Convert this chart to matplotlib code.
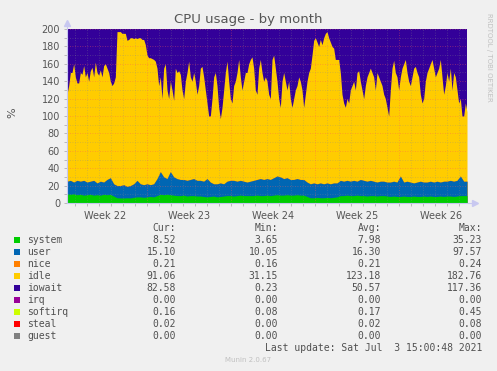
import numpy as np
import matplotlib.pyplot as plt

# munin "cpu" graph, month view (400 px wide, 12 px per day)
DAYS = 400 / 12.0

# top edge of the idle area (system+user+nice+idle), read every ~1.7 px
idle_top = [
    125, 135, 150, 150, 160, 145, 138, 138, 150, 148,
    158, 145, 150, 140, 152, 156, 145, 162, 150, 147,
    153, 145, 158, 160, 155, 150, 140, 135, 138, 145,
    197, 197, 197, 195, 195, 195, 187, 188, 190, 190,
    189, 190, 189, 190, 190, 188, 188, 182, 170, 167,
    167, 166, 165, 163, 155, 135, 145, 120, 155, 160,
    130, 120, 140, 130, 118, 155, 150, 152, 148, 130,
    120, 140, 150, 163, 145, 140, 150, 140, 125, 135,
    155, 157, 145, 130, 115, 100, 100, 120, 145, 150,
    135, 110, 97, 110, 130, 150, 163, 140, 120, 115,
    135, 140, 150, 165, 145, 130, 140, 150, 150, 160,
    165, 168, 155, 130, 125, 155, 165, 150, 140, 145,
    140, 125, 120, 165, 170, 155, 140, 120, 110, 140,
    150, 140, 130, 140, 120, 110, 120, 130, 135, 145,
    140, 130, 110, 125, 140, 150, 155, 170, 187, 190,
    185, 180, 188, 182, 190, 195, 197, 190, 185, 180,
    178, 165, 165, 165, 150, 125, 115, 110, 120, 115,
    130, 135, 140, 130, 150, 152, 140, 130, 120, 135,
    145, 150, 155, 150, 145, 130, 150, 145, 140, 135,
    125, 120, 110, 100, 130, 155, 164, 150, 145, 130,
    145, 155, 160, 165, 150, 140, 135, 145, 155, 157,
    150, 145, 125, 115, 120, 140, 150, 155, 160, 165,
    155, 145, 150, 155, 165, 145, 125, 135, 150, 140,
    155, 130, 150, 145, 130, 115, 120, 100, 100, 115,
    105,
]

# top of the system area and of the user area, read every ~3.3 px
system_top = [
    10.5, 10, 10.5, 9.5, 10, 9, 9.5, 10, 9, 9.5, 9, 10, 9.5, 10,
    8, 6, 5.8, 5.8, 6, 5.8,
    6.5, 7, 7, 6.5, 7, 7.5, 7,
    8.5, 10, 9.5, 10, 9.5,
    9, 8.5, 8.5, 9, 8, 8.5, 8.5, 8,
    8, 7.5, 7, 7.5, 8, 7, 7.5, 8,
    8.5, 8.5, 8, 8.5, 9, 8.5, 8.5,
    8.5, 8.5, 9, 8.5, 8.5, 9, 8.5,
    9, 9.5, 9, 9, 9.5, 9, 9, 9.5, 9, 9,
    7.5, 6, 6, 6.5, 6, 6, 6.5, 6, 6.5,
    7, 8.5, 8.5, 9, 8.5, 8.5, 9, 8.5, 8.5, 8, 8.5, 8.5, 8, 8.5, 8.5,
    8, 7.5, 8, 7.5, 7.5, 8, 7.5, 7.5, 8, 7.5, 7.5, 8, 7.5, 8, 7.5,
    7.5, 8, 7.5, 8, 8, 7.5, 8, 8.5, 8.5, 8.5,
]
user_top = [
    25, 26, 24, 26, 25, 26, 24, 25, 26, 23, 25, 24, 27, 29,
    22, 20, 20, 21, 19, 20,
    22, 26, 22, 21, 22, 21, 22,
    28, 36, 30, 28, 36,
    30, 28, 27, 27, 26, 27, 28, 26,
    26, 25, 28, 24, 22, 22, 23, 22,
    25, 26, 26, 25, 26, 25, 24,
    25, 26, 27, 28, 27, 28, 27,
    29, 31, 30, 28, 29, 27, 27, 28, 27, 27,
    24, 22, 23, 22, 23, 22, 23, 22, 23,
    23, 26, 25, 26, 25, 26, 25, 27, 26, 25, 26, 25, 24, 25, 25,
    24, 24, 25, 24, 31, 24, 25, 24, 23, 24, 25, 24, 24, 25, 24,
    25, 24, 25, 25, 26, 25, 26, 31, 25, 25,
]

names = ['system', 'user', 'nice', 'idle', 'iowait', 'irq', 'softirq', 'steal', 'guest']
colors = ['#00cc00', '#0066b3', '#ff8000', '#ffcc00', '#330099', '#990099', '#ccff00', '#ff0000', '#808080']
cur = ['8.52', '15.10', '0.21', '91.06', '82.58', '0.00', '0.16', '0.02', '0.00']
mins = ['3.65', '10.05', '0.16', '31.15', '0.23', '0.00', '0.08', '0.00', '0.00']
avgs = ['7.98', '16.30', '0.21', '123.18', '50.57', '0.00', '0.17', '0.02', '0.00']
maxs = ['35.23', '97.57', '0.24', '182.76', '117.36', '0.00', '0.45', '0.08', '0.00']

week_labels = ['Week 22', 'Week 23', 'Week 24', 'Week 25', 'Week 26']
first_week = 6.64   # first week boundary, in days from the left edge

W, H = 497.0, 371.0
fig = plt.figure(figsize=(W / 100, H / 100), dpi=100, facecolor='#f0f0f0')
ax = fig.add_axes([67 / W, 1 - 203 / H, 400 / W, 174 / H])
ax.set_facecolor('white')

x_hi = np.linspace(0, DAYS, len(idle_top))
x_lo = np.linspace(0, DAYS, len(system_top))
nice_h = 0.21

# paint from the top layer downwards
ax.fill_between(x_hi, 0, 199.8, color=colors[4], lw=0)
ax.fill_between(x_hi, 199.8, 199.97, color=colors[6], lw=0)
ax.fill_between(x_hi, 199.97, 200, color=colors[7], lw=0)
ax.fill_between(x_hi, 0, idle_top, color=colors[3], lw=0)
ax.fill_between(x_lo, 0, np.array(user_top) + nice_h, color=colors[2], lw=0)
ax.fill_between(x_lo, 0, user_top, color=colors[1], lw=0)
ax.fill_between(x_lo, 0, system_top, color=colors[0], lw=0)

ax.set_xlim(0, DAYS)
ax.set_ylim(0, 200)

# grid on top of the data, like rrdtool
dot = (0, (1, 2))
minor_c = (0.55, 0.55, 0.55, 0.4)
major_c = (1.0, 0.35, 0.35, 0.5)
for v in range(10, 201, 10):
    ax.axhline(v, color=major_c if v % 20 == 0 else minor_c, lw=0.6, ls=dot, zorder=5)
days = np.arange(first_week - 6, DAYS, 1.0)
for i, d in enumerate(days):
    ax.axvline(d, color=major_c if i % 7 == 6 else minor_c, lw=0.6, ls=dot, zorder=5)

ax.set_yticks(range(0, 201, 20))
ax.set_yticks(range(0, 201, 10), minor=True)
ax.set_xticks([first_week - 3.5 + 7 * k for k in range(len(week_labels))])
ax.set_xticklabels(week_labels)
ax.set_xticks(days, minor=True)
ax.tick_params(axis='both', which='both', labelsize=7, labelcolor='#555555',
               color='#b0b0b0', length=2, width=0.6)
ax.tick_params(axis='x', which='major', length=0, pad=6)
ax.tick_params(axis='y', which='major', pad=3)
for s in ax.spines.values():
    s.set_visible(False)

# axis lines with arrow heads
axc = '#c8c8f0'
ax.plot([0, 1.015], [0, 0], transform=ax.transAxes, color=axc, lw=0.8, clip_on=False, zorder=6)
ax.plot([0, 0], [0, 1.03], transform=ax.transAxes, color=axc, lw=0.8, clip_on=False, zorder=6)
ax.plot([1.02], [0], marker='>', ms=4, color=axc, transform=ax.transAxes, clip_on=False)
ax.plot([0], [1.035], marker='^', ms=4, color=axc, transform=ax.transAxes, clip_on=False)

fig.text(248 / W, 1 - 19 / H, 'CPU usage - by month', ha='center', va='center',
         fontsize=9.5, color='#555555')
fig.text(12 / W, 1 - 113 / H, '%', rotation=90, ha='center', va='center',
         fontsize=8, color='#555555')
fig.text(489 / W, 1 - 57 / H, 'RRDTOOL / TOBI OETIKER', rotation=270, ha='center',
         va='center', fontsize=5, color='#c0c0c0')

# legend table
mono = 'DejaVu Sans Mono'
tc = '#505050'
cols = [176, 278, 381, 482]


def fy(y):
    return 1 - y / H


for c, t in zip(cols, ['Cur:', 'Min:', 'Avg:', 'Max:']):
    fig.text(c / W, fy(228), t, ha='right', va='center', fontsize=7, family=mono, color=tc)
for i, n in enumerate(names):
    y = 240 + 12 * i
    fig.patches.append(plt.Rectangle((14 / W, fy(y + 3)), 6 / W, 6 / H,
                                     transform=fig.transFigure, color=colors[i], lw=0))
    fig.text(27 / W, fy(y), n, ha='left', va='center', fontsize=7, family=mono, color=tc)
    for c, v in zip(cols, [cur[i], mins[i], avgs[i], maxs[i]]):
        fig.text(c / W, fy(y), v, ha='right', va='center', fontsize=7, family=mono, color=tc)
fig.text(482 / W, fy(348), 'Last update: Sat Jul  3 15:00:48 2021', ha='right', va='center',
         fontsize=7, family=mono, color=tc)
fig.text(248 / W, fy(360), 'Munin 2.0.67', ha='center', va='center', fontsize=5,
         color='#c0c0c0')

fig.savefig('out.png', dpi=100, facecolor=fig.get_facecolor())
